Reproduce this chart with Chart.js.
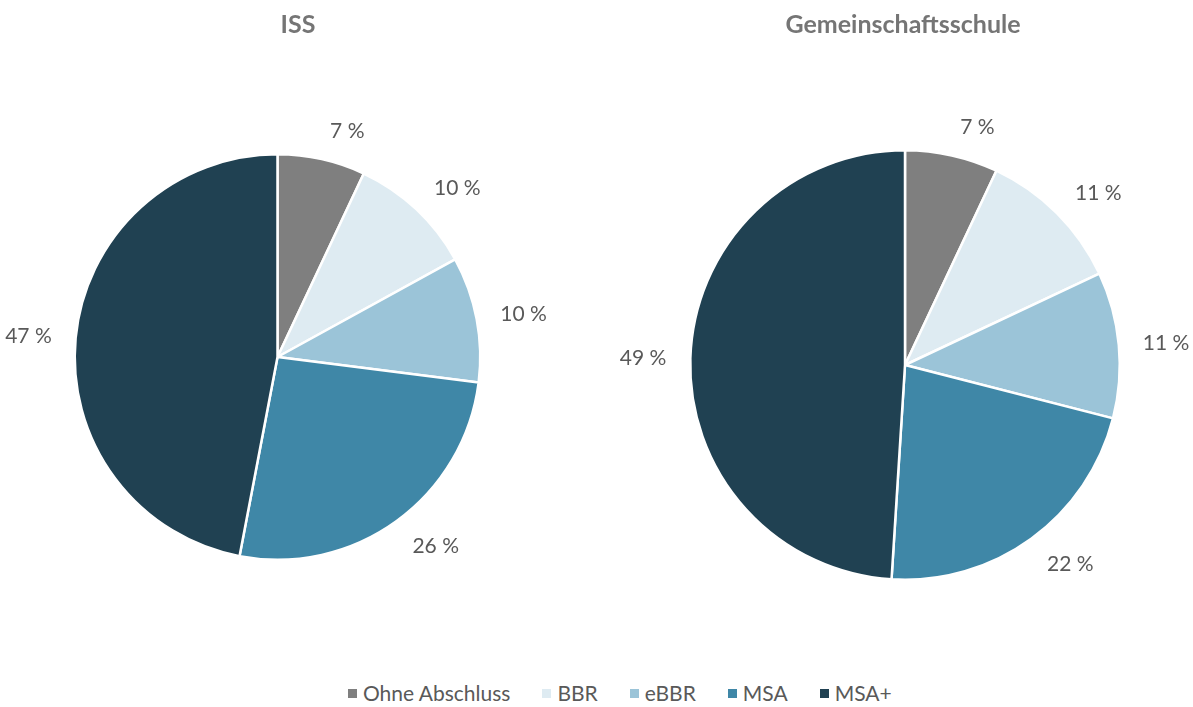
<!DOCTYPE html>
<html>
<head>
<meta charset="utf-8">
<script src="https://cdn.jsdelivr.net/npm/chart.js@4.4.1/dist/chart.umd.min.js"></script>
<style>
  html, body { margin: 0; padding: 0; background: #fff; }
  body { width: 1193px; height: 707px; position: relative; overflow: hidden; font-family: Lato, "Open Sans", sans-serif; }
  .box { position: absolute; top: 0; height: 660px; }
  #legend { position: absolute; left: 348px; top: 680px; height: 26px; line-height: 26px; display: flex; align-items: center; font-size: 21px; color: #595959; white-space: nowrap; }
  #legend .item { display: flex; align-items: center; margin-right: 32px; }
  #legend .sw { width: 9px; height: 9px; margin-right: 6px; }
</style>
</head>
<body>
<div class="box" style="left:0;width:596px"><canvas id="c1"></canvas></div>
<div class="box" style="left:596px;width:597px"><canvas id="c2"></canvas></div>
<div id="legend"></div>
<script>
const categories = ["Ohne Abschluss", "BBR", "eBBR", "MSA", "MSA+"];
const issValues = [7, 10, 10, 26, 47];
const gemValues = [7, 11, 11, 22, 49];
const chartTitles = ["ISS", "Gemeinschaftsschule"];
const colors = ["#7f7f7f", "#deebf2", "#9bc4d8", "#3f87a7", "#204152"];

const FONT = 'Lato, "Open Sans", sans-serif';

const outLabels = {
  id: 'outLabels',
  afterDatasetsDraw(chart, args, opts) {
    const ctx = chart.ctx;
    const meta = chart.getDatasetMeta(0);
    const data = chart.data.datasets[0].data;
    ctx.save();
    ctx.font = '21px ' + FONT;
    ctx.fillStyle = '#595959';
    ctx.textAlign = 'center';
    ctx.textBaseline = 'middle';
    meta.data.forEach((arc, i) => {
      const p = arc.getProps(['x', 'y', 'startAngle', 'endAngle', 'outerRadius'], true);
      const mid = (p.startAngle + p.endAngle) / 2;
      const txt = data[i] + ' %';
      const hw = ctx.measureText(txt).width / 2;
      const c = Math.cos(mid), s = Math.sin(mid);
      const side = Math.sign(c) * Math.min(1, Math.abs(c) * 5);
      const x = p.x + c * (p.outerRadius + 20) + side * (hw + 4);
      const y = p.y + s * (p.outerRadius + 30);
      ctx.fillText(txt, x, y + 1);
    });
    ctx.restore();
  }
};

const titleDraw = {
  id: 'titleDraw',
  afterDraw(chart, args, opts) {
    const ctx = chart.ctx;
    ctx.save();
    ctx.font = 'bold 25px ' + FONT;
    ctx.fillStyle = '#757575';
    ctx.textAlign = 'center';
    ctx.textBaseline = 'middle';
    ctx.fillText(opts.text, opts.x, opts.y);
    ctx.restore();
  }
};

function makePie(id, values, title, pad, tx) {
  new Chart(document.getElementById(id), {
    type: 'pie',
    data: {
      labels: categories,
      datasets: [{ data: values, backgroundColor: colors, borderColor: '#ffffff', borderWidth: 2.5 }]
    },
    options: {
      responsive: true,
      maintainAspectRatio: false,
      animation: false,
      layout: { padding: pad },
      plugins: {
        legend: { display: false },
        tooltip: { enabled: false },
        titleDraw: { text: title, x: tx, y: 25 }
      }
    },
    plugins: [outLabels, titleDraw]
  });
}

makePie('c1', issValues, chartTitles[0], { left: 73, right: 114, top: 153, bottom: 99 }, 298);
makePie('c2', gemValues, chartTitles[1], { left: 93, right: 72, top: 149, bottom: 79 }, 307);

const lg = document.getElementById('legend');
categories.forEach((c, i) => {
  const it = document.createElement('div');
  it.className = 'item';
  const sw = document.createElement('span');
  sw.className = 'sw';
  sw.style.background = colors[i];
  const tx = document.createElement('span');
  tx.textContent = c;
  it.appendChild(sw); it.appendChild(tx);
  lg.appendChild(it);
});
</script>
</body>
</html>
